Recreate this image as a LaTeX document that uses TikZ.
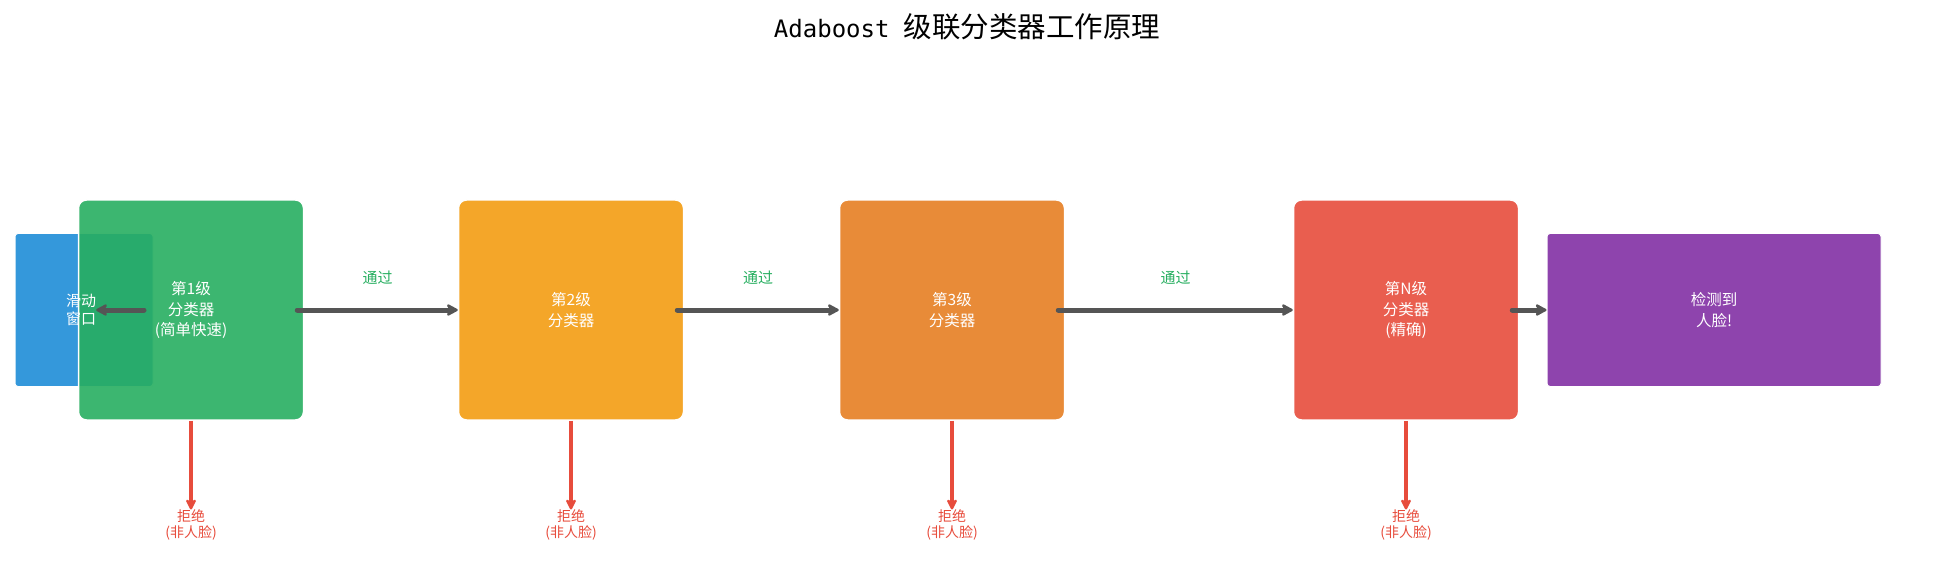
\documentclass[tikz,border=0pt]{standalone}
\usepackage{fontspec}
\setmainfont{Noto Sans CJK SC}
\newfontfamily\titlemono{DejaVu Sans Mono}
\usepackage{xcolor}
\usetikzlibrary{positioning}
\usetikzlibrary{arrows.meta}

\definecolor{winblue}{HTML}{3498DB}
\definecolor{stagegreen}{HTML}{27AE60}
\definecolor{stageorange}{HTML}{F39C12}
\definecolor{stagedark}{HTML}{E67E22}
\definecolor{stagered}{HTML}{E74C3C}
\definecolor{facepurple}{HTML}{8E44AD}
\definecolor{flowgray}{HTML}{555555}

\tikzset{
  stage/.style={rectangle, rounded corners=8pt, draw=white, line width=1.5pt,
    fill opacity=0.9, text opacity=1, minimum width=225pt, minimum height=220pt,
    text=white, align=center, font=\fontsize{15.5}{20.5}\selectfont},
  window/.style={rectangle, rounded corners=3pt, draw=white, line width=1pt,
    fill=winblue, minimum width=138pt, minimum height=153pt},
  result/.style={rectangle, rounded corners=3pt, draw=white, line width=1pt,
    fill=facepurple, minimum width=334pt,
    minimum height=153pt, text=white, align=center,
    font=\fontsize{15.5}{20.5}\selectfont},
  wintext/.style={text=white, align=center, inner sep=0pt,
    font=\fontsize{15}{18}\selectfont},
  flow/.style={-{Stealth[length=14pt,width=15pt,round]}, line width=5pt,
    draw=flowgray, line cap=round},
  reject/.style={-{Stealth[length=13pt,width=13pt,round]}, line width=3.6pt,
    draw=stagered},
  passlabel/.style={text=stagegreen, font=\fontsize{15}{18}\selectfont},
  rejectlabel/.style={text=stagered, align=center, inner sep=0pt,
    font=\fontsize{14}{16}\selectfont}
}

\begin{document}
\begin{tikzpicture}[x=1pt,y=-1pt]
    \useasboundingbox (0,0) rectangle (1935,585);
    \newcommand{\rowy}{310}

    \node (title) at (967,27) {{\titlemono\fontsize{24}{28}\selectfont Adaboost}\hspace{14pt}{\fontsize{28.5}{32}\selectfont 级联分类器工作原理}};

    \node[window] (win) at (84,\rowy) {};
    \node[stage, fill=stagegreen] (s1) at (191,\rowy) {第1级\\分类器\\(简单快速)};
    \node[wintext] (wintxt) at (81,\rowy) {滑动\\窗口};
    \coordinate (winfrom) at (144,\rowy);

    \node[stage, fill=stageorange] (s2) at (571,\rowy) {第2级\\分类器};
    \node[stage, fill=stagedark] (s3) at (952,\rowy) {第3级\\分类器};
    \node[stage, fill=stagered] (sn) at (1406,\rowy) {第N级\\分类器\\(精确)};
    \node[result] (face) at (1714,\rowy) {检测到\\人脸!};

    \node[rejectlabel] (r1) at (191,525) {拒绝\\(非人脸)};
    \node[rejectlabel] (r2) at (571,525) {拒绝\\(非人脸)};
    \node[rejectlabel] (r3) at (952,525) {拒绝\\(非人脸)};
    \node[rejectlabel] (rn) at (1406,525) {拒绝\\(非人脸)};

    \draw[flow] (winfrom) to (wintxt.east);
    \draw[flow] ([xshift=-7pt]s1.east) to node[passlabel, midway, yshift=32pt] (p1) {通过} (s2.west);
    \draw[flow] ([xshift=-7pt]s2.east) to node[passlabel, midway, yshift=32pt] (p2) {通过} (s3.west);
    \draw[flow] ([xshift=-7pt]s3.east) to node[passlabel, midway, yshift=32pt] (p3) {通过} (sn.west);
    \draw[flow] ([xshift=-7pt]sn.east) to (face.west);

    \draw[reject] (s1.south) to (r1.north);
    \draw[reject] (s2.south) to (r2.north);
    \draw[reject] (s3.south) to (r3.north);
    \draw[reject] (sn.south) to (rn.north);
\end{tikzpicture}
\end{document}
